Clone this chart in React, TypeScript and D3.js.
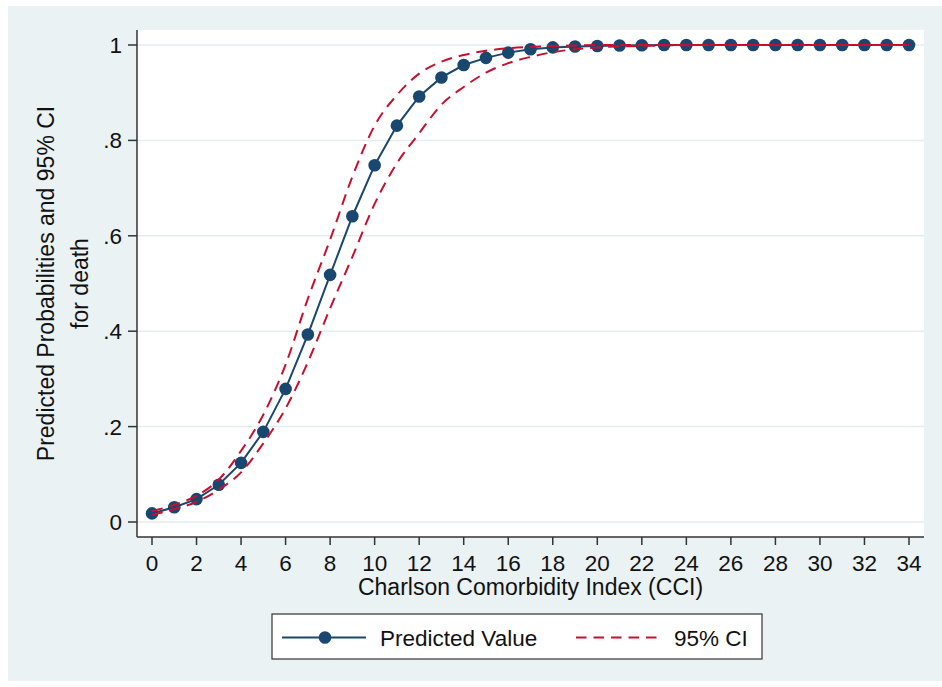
import React from 'react';
import * as d3 from 'd3';

// Charlson Comorbidity Index values 0..34
const cci = d3.range(0, 35);

// predicted probability of death
const predicted = [
  0.018, 0.031, 0.048, 0.078, 0.124, 0.189, 0.279, 0.393, 0.518, 0.641,
  0.748, 0.831, 0.892, 0.932, 0.958, 0.973, 0.984, 0.991, 0.995, 0.997,
  0.998, 0.999, 0.9995, 1, 1, 1, 1, 1, 1, 1,
  1, 1, 1, 1, 1,
];

const ciUpper = [
  0.023, 0.036, 0.055, 0.089, 0.149, 0.225, 0.33, 0.468, 0.592, 0.724,
  0.831, 0.895, 0.94, 0.965, 0.979, 0.988, 0.993, 0.996, 0.998, 0.999,
  1, 1, 1, 1, 1, 1, 1, 1, 1, 1,
  1, 1, 1, 1, 1,
];

const ciLower = [
  0.015, 0.027, 0.042, 0.068, 0.104, 0.165, 0.238, 0.335, 0.448, 0.556,
  0.667, 0.752, 0.815, 0.875, 0.912, 0.942, 0.962, 0.975, 0.985, 0.991,
  0.995, 0.997, 0.998, 0.999, 0.9995, 1, 1, 1, 1, 1,
  1, 1, 1, 1, 1,
];

const xTicks = d3.range(0, 35, 2);
const yTicks = [0, 0.2, 0.4, 0.6, 0.8, 1];
const yTickLabel = (v: number) => (v === 0 ? '0' : v === 1 ? '1' : d3.format('.1f')(v).replace(/^0/, ''));

const NAVY = '#1a476f';
const RED = '#c8102e';
const BG = '#eaf2f3';
const FONT = '"Liberation Sans", Arial, Helvetica, sans-serif';

export default function App() {
  const W = 942;
  const H = 687;
  const plot = { left: 137, right: 924, top: 30, bottom: 537 };

  const x = d3.scaleLinear().domain([0, 34]).range([152, 909]);
  const y = d3.scaleLinear().domain([0, 1]).range([522, 45]);

  const line = d3.line<number>()
    .x((_, i) => x(cci[i]))
    .y(d => y(d));
  const smooth = d3.line<number>()
    .x((_, i) => x(cci[i]))
    .y(d => y(d))
    .curve(d3.curveMonotoneX);

  const midY = (plot.top + plot.bottom) / 2;
  const tickSize = 22.5;
  const titleSize = 23;

  return (
    <svg width={W} height={H} style={{ position: 'absolute', left: 0, top: 0, fontFamily: FONT }}>
      <rect x={0} y={0} width={W} height={H} fill="#fff" />
      <rect x={8} y={6} width={W - 8} height={675} fill={BG} />
      <rect x={plot.left} y={plot.top} width={plot.right - plot.left} height={plot.bottom - plot.top} fill="#fff" />

      {yTicks.map(t => (
        <line key={'g' + t} x1={plot.left} x2={plot.right} y1={y(t)} y2={y(t)} stroke="#e3edf1" strokeWidth={1.5} />
      ))}

      {/* axes */}
      <line x1={plot.left} x2={plot.left} y1={plot.top} y2={plot.bottom} stroke="#333" strokeWidth={1.5} />
      <line x1={plot.left} x2={plot.right} y1={plot.bottom} y2={plot.bottom} stroke="#333" strokeWidth={1.5} />

      {yTicks.map(t => (
        <g key={'yt' + t}>
          <line x1={plot.left - 9} x2={plot.left} y1={y(t)} y2={y(t)} stroke="#333" strokeWidth={1.5} />
          <text x={plot.left - 15} y={y(t) + 8} textAnchor="end" fontSize={tickSize} fill="#111">{yTickLabel(t)}</text>
        </g>
      ))}
      {xTicks.map(t => (
        <g key={'xt' + t}>
          <line x1={x(t)} x2={x(t)} y1={plot.bottom} y2={plot.bottom + 8} stroke="#333" strokeWidth={1.5} />
          <text x={x(t)} y={570.5} textAnchor="middle" fontSize={tickSize} fill="#111">{t}</text>
        </g>
      ))}

      <text x={(plot.left + plot.right) / 2} y={595} textAnchor="middle" fontSize={titleSize} fill="#111">
        Charlson Comorbidity Index (CCI)
      </text>
      <text transform={`translate(54,${midY}) rotate(-90)`} textAnchor="middle" fontSize={titleSize} fill="#111">
        Predicted Probabilities and 95% CI
      </text>
      <text transform={`translate(88,${midY}) rotate(-90)`} textAnchor="middle" fontSize={titleSize} fill="#111">
        for death
      </text>

      {/* predicted values */}
      <path d={line(predicted) || ''} fill="none" stroke={NAVY} strokeWidth={2} />
      {predicted.map((v, i) => (
        <circle key={'p' + i} cx={x(cci[i])} cy={y(v)} r={6.3} fill={NAVY} />
      ))}

      {/* confidence interval */}
      <path d={smooth(ciUpper) || ''} fill="none" stroke={RED} strokeWidth={2} strokeDasharray="11 7" />
      <path d={smooth(ciLower) || ''} fill="none" stroke={RED} strokeWidth={2} strokeDasharray="11 7" />

      {/* legend */}
      <g>
        <rect x={272} y={614} width={490} height={45} fill="#fff" stroke="#333" strokeWidth={1.2} />
        <line x1={282} x2={366} y1={637.5} y2={637.5} stroke={NAVY} strokeWidth={2} />
        <circle cx={325} cy={637.5} r={6.3} fill={NAVY} />
        <text x={380} y={646} fontSize={tickSize} fill="#111">Predicted Value</text>
        <line x1={576} x2={660} y1={637.5} y2={637.5} stroke={RED} strokeWidth={2} strokeDasharray="10.5 7" />
        <text x={674} y={646} fontSize={tickSize} fill="#111">95% CI</text>
      </g>
    </svg>
  );
}
